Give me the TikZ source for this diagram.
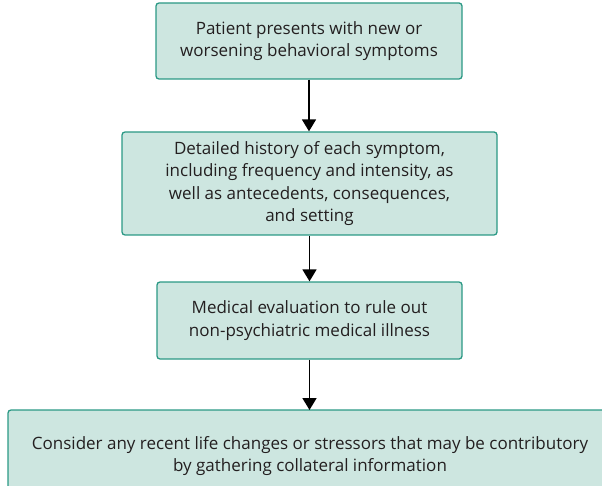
\documentclass[tikz,border=0pt]{standalone}
\usepackage{fontspec}
\setmainfont{Open Sans}
\usetikzlibrary{arrows.meta}
\definecolor{boxfill}{HTML}{CDE6E0}
\definecolor{boxedge}{HTML}{2B9985}
\definecolor{textgray}{HTML}{231F20}
\begin{document}
\begin{tikzpicture}[x=1pt,y=-1pt,
  boxframe/.style={draw=boxedge, fill=boxfill, line width=1.3pt, rounded corners=3pt},
  boxtext/.style={align=center, text=textgray, font=\fontsize{17}{22.5}\selectfont, inner sep=0pt},
  flowbox/.style={boxframe, boxtext},
  flowarrow/.style={draw=black, line width=1.7pt, -{Triangle[length=12pt,width=14pt]}}]
\useasboundingbox (0,0) rectangle (602,486);
\clip (0,0) rectangle (602,486);

\node[flowbox, minimum width=306pt, minimum height=76pt] (b1) at (309,41)
  {Patient presents with new or\\worsening behavioral symptoms};
\node[flowbox, minimum width=375pt, minimum height=103pt] (b2) at (309.5,183.5)
  {Detailed history of each symptom,\\including frequency and intensity, as\\well as antecedents, consequences,\\and setting};
\node[flowbox, minimum width=305pt, minimum height=77pt] (b3) at (309.5,320.5)
  {Medical evaluation to rule out\\non-psychiatric medical illness};

% the last box runs on past the right and bottom edges of the page
\path[boxframe] (8,410) rectangle (660,520);
\coordinate (b4top) at (309.5,410);
\node[boxtext] (b4) at (310,456)
  {Consider any recent life changes or stressors that may be contributory\\by gathering collateral information};

\draw[flowarrow] (b1.south) -- (b1.south |- b2.north);
\draw[flowarrow] (b2.south) -- (b2.south |- b3.north);
\draw[flowarrow] (b3.south) -- (b4top);
\end{tikzpicture}
\end{document}
